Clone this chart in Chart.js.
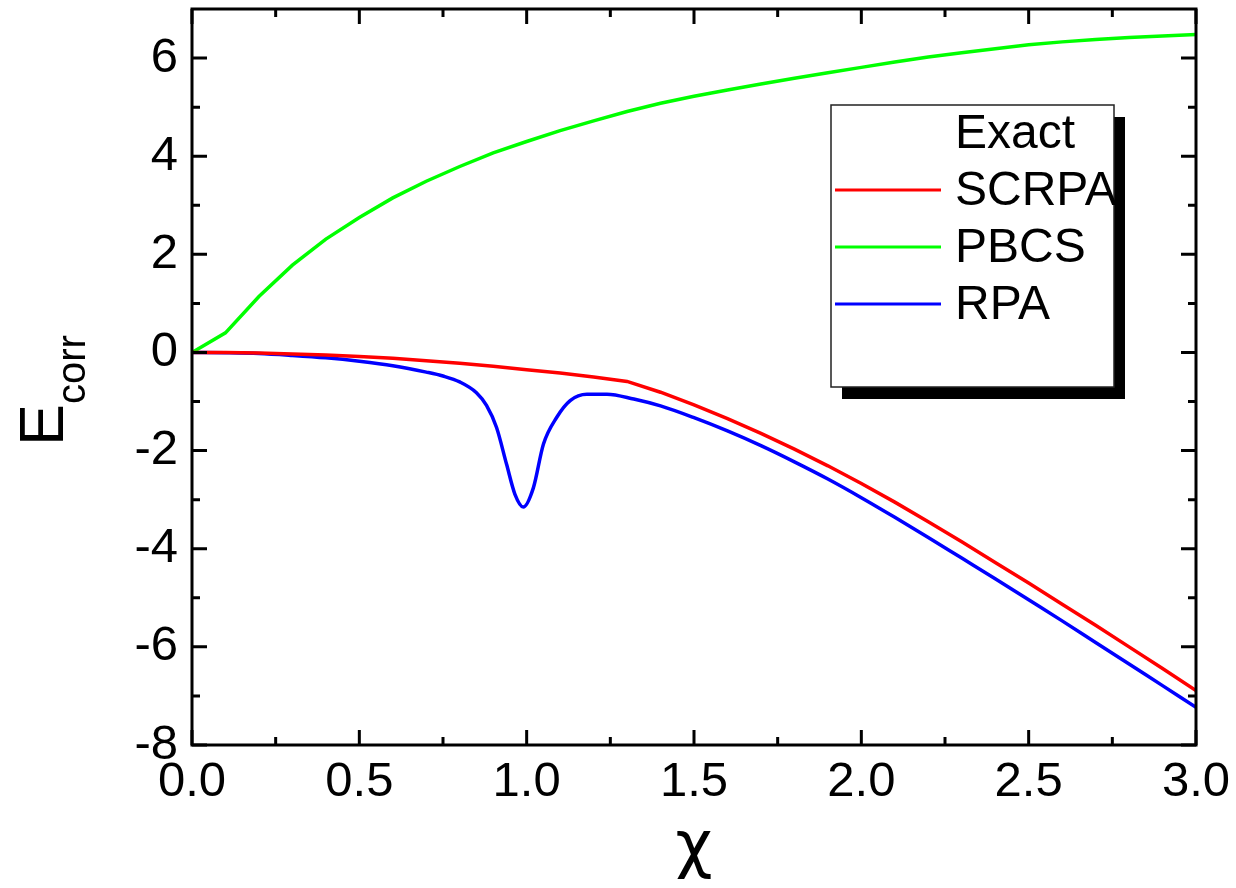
<!DOCTYPE html>
<html>
<head>
<meta charset="utf-8">
<script src="https://cdn.jsdelivr.net/npm/chart.js@4.4.1/dist/chart.umd.min.js"></script>
<style>
    html, body { margin: 0; padding: 0; background: #fff; }
    #wrap { width: 1236px; height: 888px; position: relative; }
</style>
</head>
<body>
<div id="wrap"><canvas id="ecorrChart" width="1236" height="888"></canvas></div>
<script>
// correlation energy vs chi
const chi = [0, 0.1, 0.2, 0.3, 0.4, 0.5, 0.6, 0.7, 0.8, 0.9, 1.0, 1.1, 1.2, 1.3, 1.4, 1.5,
    1.6, 1.7, 1.8, 1.9, 2.0, 2.1, 2.2, 2.3, 2.4, 2.5, 2.6, 2.7, 2.8, 2.9, 3.0];
const scrpa = [0, 0, -0.01, -0.03, -0.05, -0.08, -0.12, -0.17, -0.22, -0.28, -0.35, -0.42, -0.50, -0.59, -0.81, -1.07,
    -1.35, -1.65, -1.97, -2.31, -2.67, -3.05, -3.45, -3.86, -4.28, -4.70, -5.13, -5.56, -6.00, -6.44, -6.89];
const pbcs = [0, 0.40, 1.14, 1.78, 2.31, 2.75, 3.15, 3.49, 3.79, 4.07, 4.30, 4.52, 4.72, 4.91, 5.08, 5.22,
    5.35, 5.47, 5.59, 5.70, 5.81, 5.92, 6.02, 6.11, 6.19, 6.27, 6.33, 6.38, 6.42, 6.45, 6.48];
// RPA sampled more densely around the dip near chi = 1
const rpaChi = [0, 0.1, 0.2, 0.3, 0.4, 0.5, 0.6, 0.7, 0.75, 0.8, 0.85, 0.88, 0.91, 0.94, 0.965, 0.99,
    1.02, 1.05, 1.09, 1.13, 1.18, 1.24, 1.32, 1.4, 1.5, 1.6, 1.7, 1.8, 1.9, 2.0,
    2.1, 2.2, 2.3, 2.4, 2.5, 2.6, 2.7, 2.8, 2.9, 3.0];
const rpa = [0, -0.005, -0.02, -0.06, -0.11, -0.18, -0.27, -0.40, -0.48, -0.60, -0.82, -1.08, -1.53, -2.28, -2.89, -3.15,
    -2.76, -1.87, -1.32, -0.98, -0.85, -0.85, -0.95, -1.09, -1.33, -1.60, -1.90, -2.23, -2.58, -2.96,
    -3.36, -3.77, -4.19, -4.61, -5.04, -5.47, -5.91, -6.35, -6.79, -7.23];
const exact = [];

const xTicks = [0, 0.5, 1.0, 1.5, 2.0, 2.5, 3.0];
const xMinor = [0.25, 0.75, 1.25, 1.75, 2.25, 2.75];
const yTicks = [-8, -6, -4, -2, 0, 2, 4, 6];
const yMinor = [-7, -5, -3, -1, 1, 3, 5];

const FONT = "'Liberation Sans', Arial, Helvetica, sans-serif";

function pairs(xs, ys) {
    return ys.map((y, i) => ({ x: xs[i], y: y }));
}

// frame with inward ticks on all four sides
const framePlugin = {
    id: 'frame',
    afterDraw(chart) {
        const ctx = chart.ctx;
        const a = chart.chartArea;
        const xs = chart.scales.x;
        const ys = chart.scales.y;
        ctx.save();
        ctx.strokeStyle = '#000';
        ctx.lineWidth = 3;
        ctx.lineCap = 'butt';
        ctx.beginPath();
        const tick = (x1, y1, x2, y2) => { ctx.moveTo(x1, y1); ctx.lineTo(x2, y2); };
        xTicks.forEach(v => {
            const p = xs.getPixelForValue(v);
            tick(p, a.bottom, p, a.bottom - 15);
            tick(p, a.top, p, a.top + 15);
        });
        xMinor.forEach(v => {
            const p = xs.getPixelForValue(v);
            tick(p, a.bottom, p, a.bottom - 8);
            tick(p, a.top, p, a.top + 8);
        });
        yTicks.forEach(v => {
            const p = ys.getPixelForValue(v);
            tick(a.left, p, a.left + 15, p);
            tick(a.right, p, a.right - 15, p);
        });
        yMinor.forEach(v => {
            const p = ys.getPixelForValue(v);
            tick(a.left, p, a.left + 8, p);
            tick(a.right, p, a.right - 8, p);
        });
        ctx.stroke();
        ctx.strokeRect(a.left, a.top, a.right - a.left, a.bottom - a.top);
        ctx.restore();
    }
};

// axis titles: chi below, E_corr rotated on the left
const titlesPlugin = {
    id: 'titles',
    afterDraw(chart) {
        const ctx = chart.ctx;
        const a = chart.chartArea;
        ctx.save();
        ctx.fillStyle = '#000';
        ctx.textAlign = 'center';
        ctx.textBaseline = 'alphabetic';
        ctx.font = "64px 'DejaVu Sans', sans-serif";
        ctx.fillText('\u03c7', (a.left + a.right) / 2, 866);

        ctx.translate(63, 446);
        ctx.rotate(-Math.PI / 2);
        ctx.textAlign = 'left';
        ctx.font = '63px ' + FONT;
        ctx.fillText('E', 0, 0);
        const w = ctx.measureText('E').width;
        ctx.font = '40px ' + FONT;
        ctx.fillText('corr', w, 22);
        ctx.restore();
    }
};

// boxed legend with a drop shadow
const legendBoxPlugin = {
    id: 'legendBox',
    afterDraw(chart) {
        const ctx = chart.ctx;
        const box = { x: 831, y: 105, w: 283, h: 282 };
        ctx.save();
        ctx.fillStyle = '#000';
        ctx.fillRect(box.x + 11, box.y + 12, box.w, box.h);
        ctx.fillStyle = '#fff';
        ctx.fillRect(box.x, box.y, box.w, box.h);
        ctx.strokeStyle = '#222';
        ctx.lineWidth = 1.5;
        ctx.strokeRect(box.x, box.y, box.w, box.h);

        ctx.font = '48px ' + FONT;
        ctx.textBaseline = 'middle';
        ctx.textAlign = 'left';
        chart.data.datasets.forEach((ds, i) => {
            const y = 133 + i * 57;
            ctx.strokeStyle = ds.borderColor;
            ctx.lineWidth = 3;
            ctx.beginPath();
            ctx.moveTo(835, y);
            ctx.lineTo(941, y);
            ctx.stroke();
            ctx.fillStyle = '#000';
            ctx.fillText(ds.label, 955, y + 2);
        });
        ctx.restore();
    }
};

const lineStyle = {
    borderWidth: 3.5,
    pointRadius: 0,
    fill: false,
    tension: 0
};

new Chart(document.getElementById('ecorrChart'), {
    type: 'line',
    data: {
        datasets: [
            Object.assign({ label: 'Exact', data: exact, borderColor: 'rgba(0,0,0,0)' }, lineStyle),
            Object.assign({ label: 'SCRPA', data: pairs(chi, scrpa), borderColor: '#ff0000' }, lineStyle),
            Object.assign({ label: 'PBCS', data: pairs(chi, pbcs), borderColor: '#00ff00' }, lineStyle),
            Object.assign({ label: 'RPA', data: pairs(rpaChi, rpa), borderColor: '#0000ff', cubicInterpolationMode: 'monotone' }, lineStyle)
        ]
    },
    options: {
        responsive: false,
        animation: false,
        events: [],
        layout: { padding: { left: 0, right: 40, top: 9, bottom: 0 } },
        plugins: {
            legend: { display: false },
            tooltip: { enabled: false }
        },
        scales: {
            x: {
                type: 'linear',
                min: 0,
                max: 3,
                grid: { display: false, drawTicks: false },
                border: { display: false },
                ticks: {
                    padding: 8,
                    color: '#000',
                    font: { size: 49, family: FONT },
                    maxRotation: 0,
                    callback: v => v.toFixed(1)
                },
                afterBuildTicks: scale => { scale.ticks = xTicks.map(v => ({ value: v })); },
                afterFit: scale => {
                    scale.height = 143;
                    scale.paddingLeft = 0;
                    scale.paddingRight = 0;
                }
            },
            y: {
                type: 'linear',
                min: -8,
                max: 7,
                grid: { display: false, drawTicks: false },
                border: { display: false },
                ticks: {
                    padding: 14,
                    color: '#000',
                    font: { size: 49, family: FONT },
                    callback: v => String(v)
                },
                afterBuildTicks: scale => { scale.ticks = yTicks.map(v => ({ value: v })); },
                afterFit: scale => {
                    scale.width = 192;
                    scale.paddingTop = 0;
                    scale.paddingBottom = 0;
                }
            }
        }
    },
    plugins: [framePlugin, titlesPlugin, legendBoxPlugin]
});
</script>
</body>
</html>
